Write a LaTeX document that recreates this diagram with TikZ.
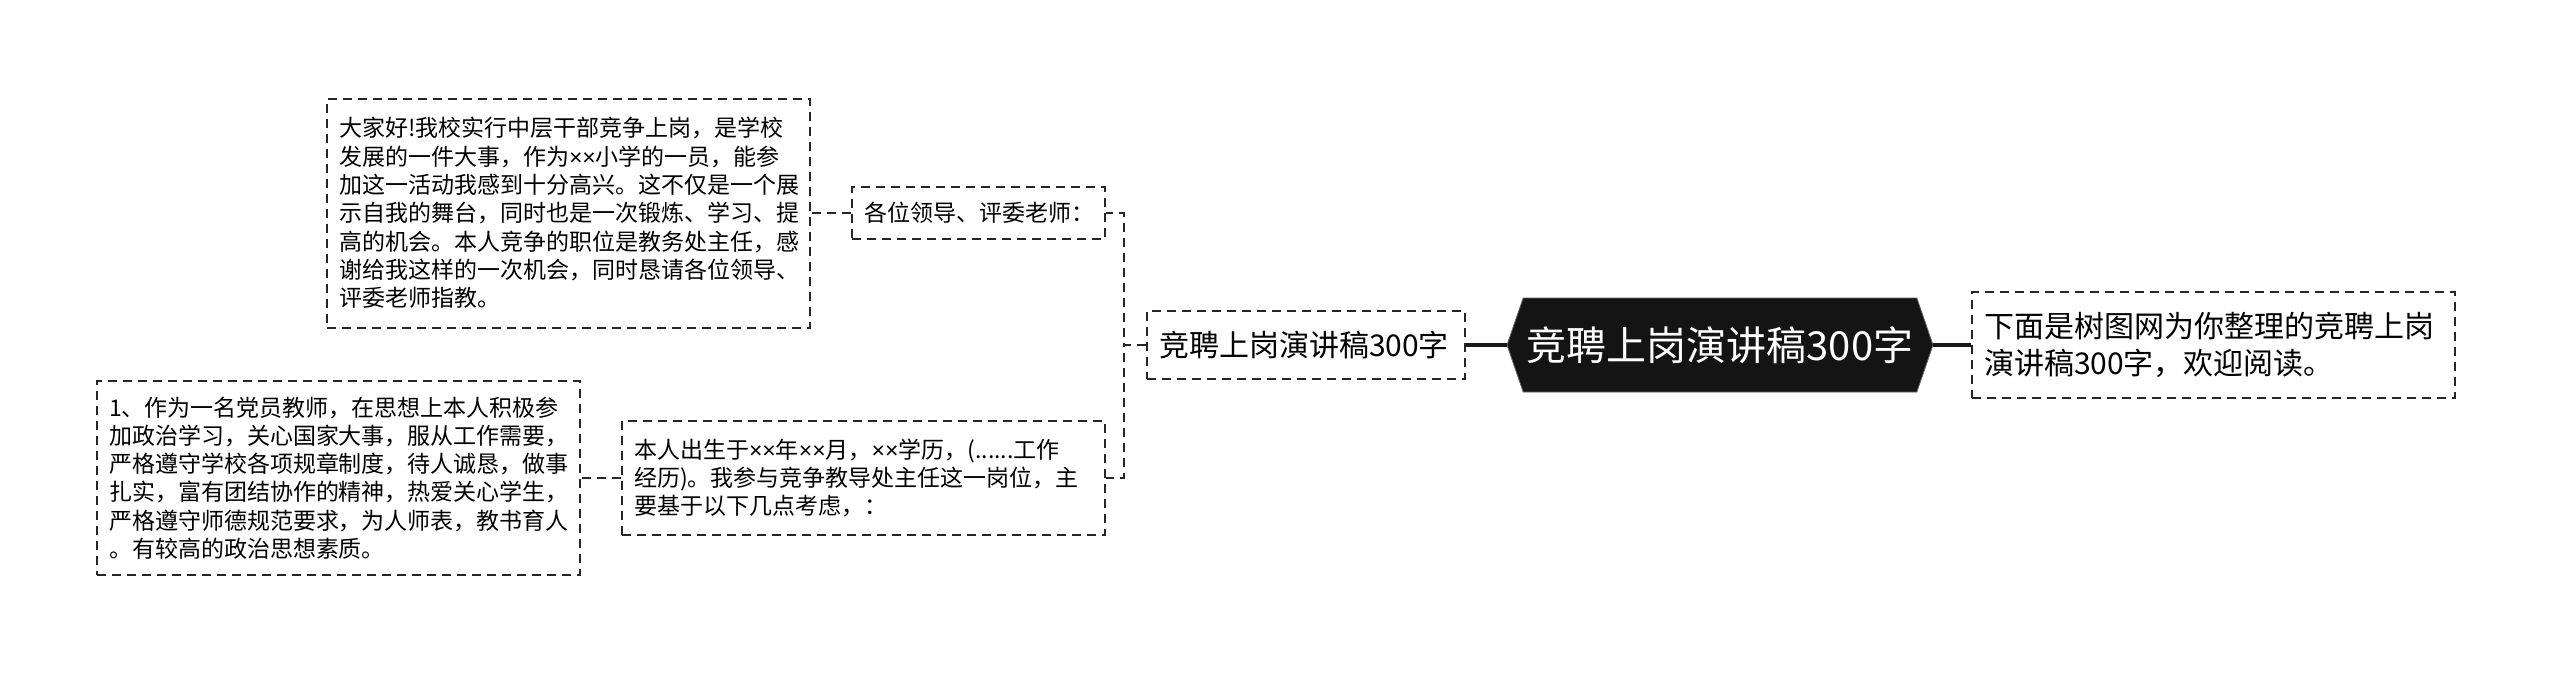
\documentclass[tikz,border=0pt]{standalone}
\usepackage{fontspec}
\setmainfont{Noto Sans CJK SC}
\newfontfamily\narrowfont{Liberation Sans}
\newcommand{\xx}{{\narrowfont ××}}
\usetikzlibrary{shapes.symbols}

\begin{document}
\begin{tikzpicture}[x=0.5pt,y=-0.5pt,
  every node/.style={text=black},
  box/.style={draw=black!85, line width=1pt, dash pattern=on 4.5pt off 3pt,
    align=left, inner xsep=6pt, inner ysep=0pt, text width=229.5pt,
    font=\fontsize{11.5}{14.15}\selectfont},
  link/.style={draw=black!85, line width=1pt, dash pattern=on 4.5pt off 3pt},
  trunk/.style={draw=black!90, line width=1.75pt}]
\useasboundingbox (0,0) rectangle (2560,675);

% centre
\node[signal, signal to=west and east, signal pointer angle=142, fill=black!92,
  draw=black!60, text=white, minimum width=213pt, minimum height=47pt, inner sep=0pt,
  font=\fontsize{20}{24}\selectfont] (root) at (1720,345) {竞聘上岗演讲稿300字};

% right side
\node[box, font=\fontsize{15}{18.3}\selectfont, minimum height=53pt] (intro) at (2213.5,345)
  {下面是树图网为你整理的竞聘上岗\\演讲稿300字，欢迎阅读。};

% left side
\node[box, text width=147pt, font=\fontsize{15}{18.3}\selectfont, minimum height=34pt] (title) at (1306,345)
  {竞聘上岗演讲稿300字};
\node[box, text width=114.5pt, minimum height=26pt] (greet) at (978.5,213)
  {各位领导、评委老师：};
\node[box, minimum height=114.5pt] (opening) at (568.5,213)
  {大家好!我校实行中层干部竞争上岗，是学校\\发展的一件大事，作为\xx 小学的一员，能参\\加这一活动我感到十分高兴。这不仅是一个展\\示自我的舞台，同时也是一次锻炼、学习、提\\高的机会。本人竞争的职位是教务处主任，感\\谢给我这样的一次机会，同时恳请各位领导、\\评委老师指教。};
\node[box, minimum height=57pt] (resume) at (863.5,478)
  {本人出生于\xx 年\xx 月，\xx 学历，(......工作\\经历)。我参与竞争教导处主任这一岗位，主\\要基于以下几点考虑，：};
\node[box, minimum height=97pt] (point1) at (338.5,478)
  {1、作为一名党员教师，在思想上本人积极参\\加政治学习，关心国家大事，服从工作需要，\\严格遵守学校各项规章制度，待人诚恳，做事\\扎实，富有团结协作的精神，热爱关心学生，\\严格遵守师德规范要求，为人师表，教书育人\\。有较高的政治思想素质。};

% connectors
\draw[trunk] (root.west) -- (title.east);
\draw[trunk] (root.east) -- (intro.west);
\draw[link] (title.west) -- ++(-22,0) |- (greet.east);
\draw[link] (title.west) -- ++(-22,0) |- (resume.east);
\draw[link] (greet.west) -- (opening.east);
\draw[link] (resume.west) -- (point1.east);
\end{tikzpicture}
\end{document}
